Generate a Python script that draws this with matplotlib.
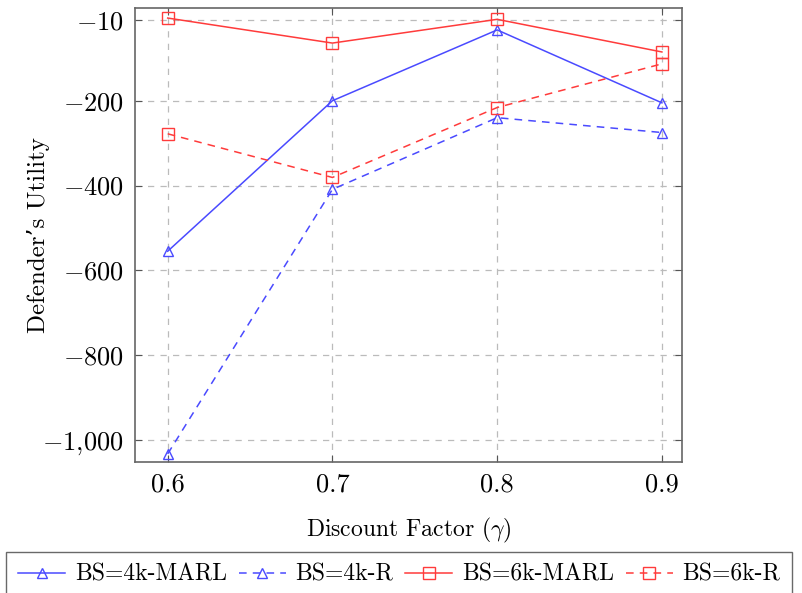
import matplotlib
matplotlib.use("Agg")
import matplotlib.pyplot as plt

plt.rcParams["font.family"] = ["cmr10", "DejaVu Serif"]
plt.rcParams["mathtext.fontset"] = "cm"
plt.rcParams["axes.unicode_minus"] = False

gamma = [0.6, 0.7, 0.8, 0.9]
bs4k_marl = [-555, -200, -33, -205]
bs4k_r = [-1033, -409, -240, -275]
bs6k_marl = [-5, -64, -8, -85]
bs6k_r = [-278, -381, -216, -113]

y_ticks = [-1000, -800, -600, -400, -200, -10]
y_labels = [r"$-1{,}000$", r"$-800$", r"$-600$", r"$-400$", r"$-200$", r"$-10$"]
x_labels = ["0.6", "0.7", "0.8", "0.9"]

blue = "#4a4aff"
red = "#ff3b3b"

fig = plt.figure(figsize=(8.02, 5.93), dpi=100)
ax = fig.add_axes([0.168, 0.221, 0.682, 0.765])

ax.plot(gamma, bs4k_marl, color=blue, lw=1.1, marker="^", ms=7,
        mfc="none", mec=blue, label="BS=4k-MARL")
ax.plot(gamma, bs4k_r, color=blue, lw=1.1, ls=(0, (5, 4)), marker="^", ms=7,
        mfc="none", mec=blue, label="BS=4k-R")
ax.plot(gamma, bs6k_marl, color=red, lw=1.1, marker="s", ms=8,
        mfc="none", mec=red, label="BS=6k-MARL")
ax.plot(gamma, bs6k_r, color=red, lw=1.1, ls=(0, (5, 4)), marker="s", ms=8,
        mfc="none", mec=red, label="BS=6k-R")

ax.set_xlim(0.58, 0.912)
ax.set_ylim(-1052, 18)
ax.set_xticks(gamma)
ax.set_xticklabels(x_labels)
ax.set_yticks(y_ticks)
ax.set_yticklabels(y_labels)
ax.tick_params(direction="in", top=True, right=True, labelsize=19, length=5,
               color="#555555", pad=8)
ax.grid(True, ls=(0, (5, 5)), color="#bbbbbb", lw=0.9)
for s in ax.spines.values():
    s.set_color("#666666")
    s.set_linewidth(1.2)

ax.set_xlabel(r"Discount Factor ($\gamma$)", fontsize=17, labelpad=14)
ax.set_ylabel("Defender\u2019s Utility", fontsize=18)
ax.yaxis.set_label_coords(-0.155, 0.5)

fig.legend(loc="lower left", bbox_to_anchor=(0.008, -0.008), ncol=4,
           fontsize=17, frameon=True, fancybox=False, edgecolor="#444444",
           handlelength=2.0, handletextpad=0.4, columnspacing=0.5,
           borderaxespad=0.0, borderpad=0.5)

fig.savefig("out.png", dpi=100)
